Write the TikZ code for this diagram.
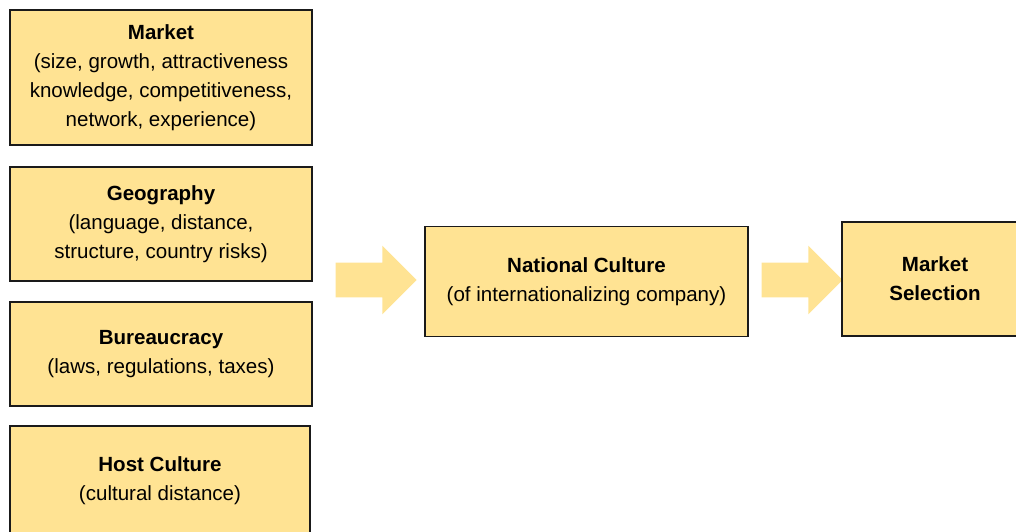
\documentclass[tikz,border=0pt]{standalone}
\usepackage{fontspec}
\setmainfont{Liberation Sans}
\usetikzlibrary{positioning, shapes.arrows}
\definecolor{boxfill}{HTML}{FFE393}
\definecolor{boxline}{HTML}{1A1A1A}
\tikzset{
  factor/.style={draw=boxline, line width=0.9pt, fill=boxfill, align=center, inner sep=0pt,
    font=\fontsize{14.6}{20.5}\selectfont},
  flow/.style={single arrow, fill=boxfill, draw=none, inner xsep=0pt, inner ysep=17\px,
    minimum width=68\px, single arrow head extend=17\px, minimum height=81\px, anchor=tip}
}
\newlength{\px}
\setlength{\px}{0.025cm}
\begin{document}
\begin{tikzpicture}[x=0.025cm, y=-0.025cm]
  \useasboundingbox (0,0) rectangle (1016,531);
  \clip (0,0) rectangle (1016,531);
  % factors on the left
  \node[factor, minimum width=302\px, minimum height=135\px] (market) at (161,77.5)
    {\textbf{Market}\\(size, growth, attractiveness\\knowledge, competitiveness,\\network, experience)};
  \node[factor, minimum width=302\px, minimum height=114\px] (geo) at (161,224)
    {\textbf{Geography}\\(language, distance,\\structure, country risks)};
  \node[factor, minimum width=302\px, minimum height=104\px] (bureau) at (161,354)
    {\textbf{Bureaucracy}\\(laws, regulations, taxes)};
  \node[factor, minimum width=300\px, minimum height=110\px] (host) at (160,481)
    {\textbf{Host Culture}\\(cultural distance)};
  % main flow
  \node[flow] (arr1) at (417,280) {};
  \node[factor, minimum width=323\px, minimum height=110\px] (national) at (586.5,281.5)
    {\textbf{National Culture}\\(of internationalizing company)};
  \node[flow] (arr2) at (843,280) {};
  \node[factor, minimum width=186\px, minimum height=114\px] (selection) at (935,279)
    {\textbf{Market}\\\textbf{Selection}};
\end{tikzpicture}
\end{document}
